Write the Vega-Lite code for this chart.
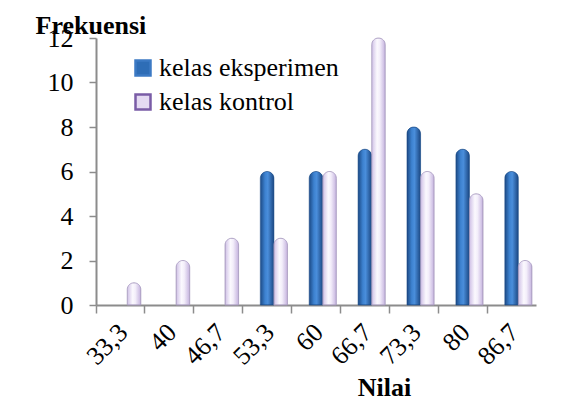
{
  "$schema": "https://vega.github.io/schema/vega-lite/v6.json",
  "width": 440,
  "height": 267,
  "autosize": {"type": "none"},
  "padding": {"left": 96, "top": 38, "right": 52, "bottom": 114},
  "background": "white",
  "config": {"view": {"stroke": null}, "font": "Liberation Serif"},
  "data": {
    "values": [
      {"nilai": "33,3", "series": "kelas eksperimen", "frek": 0},
      {"nilai": "33,3", "series": "kelas kontrol", "frek": 1},
      {"nilai": "40", "series": "kelas eksperimen", "frek": 0},
      {"nilai": "40", "series": "kelas kontrol", "frek": 2},
      {"nilai": "46,7", "series": "kelas eksperimen", "frek": 0},
      {"nilai": "46,7", "series": "kelas kontrol", "frek": 3},
      {"nilai": "53,3", "series": "kelas eksperimen", "frek": 6},
      {"nilai": "53,3", "series": "kelas kontrol", "frek": 3},
      {"nilai": "60", "series": "kelas eksperimen", "frek": 6},
      {"nilai": "60", "series": "kelas kontrol", "frek": 6},
      {"nilai": "66,7", "series": "kelas eksperimen", "frek": 7},
      {"nilai": "66,7", "series": "kelas kontrol", "frek": 12},
      {"nilai": "73,3", "series": "kelas eksperimen", "frek": 8},
      {"nilai": "73,3", "series": "kelas kontrol", "frek": 6},
      {"nilai": "80", "series": "kelas eksperimen", "frek": 7},
      {"nilai": "80", "series": "kelas kontrol", "frek": 5},
      {"nilai": "86,7", "series": "kelas eksperimen", "frek": 6},
      {"nilai": "86,7", "series": "kelas kontrol", "frek": 2}
    ]
  },
  "encoding": {
    "x": {
      "field": "nilai",
      "type": "nominal",
      "sort": ["33,3", "40", "46,7", "53,3", "60", "66,7", "73,3", "80", "86,7"],
      "scale": {"paddingInner": 0, "paddingOuter": 0},
      "axis": {
        "title": "Nilai",
        "titleFont": "Liberation Serif",
        "titleFontSize": 26,
        "titleFontWeight": "bold",
        "titleColor": "black",
        "titleX": 288,
        "titleY": 90,
        "titleBaseline": "alphabetic",
        "titleAnchor": "middle",
        "titleAlign": "center",
        "bandPosition": 0,
        "labelOffset": 3,
        "labelAngle": -45,
        "labelAlign": "right",
        "labelBaseline": "middle",
        "labelFont": "Liberation Serif",
        "labelFontSize": 26,
        "labelColor": "black",
        "labelPadding": 15,
        "tickSize": 8,
        "tickColor": "#8C8C8C",
        "tickWidth": 1.5,
        "domainColor": "#8C8C8C",
        "domainWidth": 2,
        "grid": false
      }
    },
    "xOffset": {
      "field": "series",
      "type": "nominal",
      "scale": {"domain": ["_", "kelas eksperimen", "kelas kontrol"], "paddingInner": 0, "paddingOuter": 0.3}
    },
    "y": {
      "field": "frek",
      "type": "quantitative",
      "scale": {"domain": [0, 12], "nice": false},
      "axis": {
        "title": "Frekuensi",
        "titleFont": "Liberation Serif",
        "titleFontSize": 26,
        "titleFontWeight": "bold",
        "titleColor": "black",
        "titleAngle": 0,
        "titleAlign": "left",
        "titleBaseline": "alphabetic",
        "titleX": -61,
        "titleY": -5,
        "values": [0, 2, 4, 6, 8, 10, 12],
        "labelFont": "Liberation Serif",
        "labelFontSize": 26,
        "labelColor": "black",
        "labelPadding": 16,
        "tickSize": 7,
        "tickColor": "#8C8C8C",
        "tickWidth": 1.5,
        "domainColor": "#8C8C8C",
        "domainWidth": 2,
        "grid": false
      }
    }
  },
  "layer": [
    {
      "transform": [{"filter": "datum.frek > 0"}],
      "mark": {"type": "bar", "cornerRadiusTopLeft": 7, "cornerRadiusTopRight": 7, "strokeWidth": 0},
      "encoding": {
        "color": {
          "field": "series",
          "type": "nominal",
          "scale": {"domain": ["kelas eksperimen", "kelas kontrol"], "range": ["#2E6DB6", "#E4DAF2"]},
          "legend": {
            "title": null,
            "orient": "none",
            "legendX": 34,
            "legendY": 17,
            "symbolType": "square",
            "symbolSize": 225,
            "symbolStrokeWidth": 2.5,
            "labelFont": "Liberation Serif",
            "labelFontSize": 26,
            "labelColor": "black",
            "labelLimit": 0,
            "labelOffset": 3,
            "rowPadding": 8
          }
        },
        "stroke": {
          "field": "series",
          "type": "nominal",
          "scale": {"domain": ["kelas eksperimen", "kelas kontrol"], "range": ["#3C7AC4", "#7A5CA6"]},
          "legend": {
            "title": null,
            "orient": "none",
            "legendX": 34,
            "legendY": 17,
            "symbolType": "square",
            "symbolSize": 225,
            "symbolStrokeWidth": 2.5,
            "labelFont": "Liberation Serif",
            "labelFontSize": 26,
            "labelColor": "black",
            "labelLimit": 0,
            "labelOffset": 3,
            "rowPadding": 8
          }
        }
      }
    },
    {
      "transform": [{"filter": "datum.series === 'kelas eksperimen' && datum.frek > 0"}],
      "mark": {
        "type": "bar",
        "cornerRadiusTopLeft": 7,
        "cornerRadiusTopRight": 7,
        "stroke": "#1D4B86",
        "strokeWidth": 0.6,
        "color": {
          "gradient": "linear",
          "x1": 0, "y1": 0, "x2": 1, "y2": 0,
          "stops": [
            {"offset": 0, "color": "#1C4A85"},
            {"offset": 0.35, "color": "#3D82D0"},
            {"offset": 0.55, "color": "#4A8EDB"},
            {"offset": 1, "color": "#1B4782"}
          ]
        }
      }
    },
    {
      "transform": [{"filter": "datum.series === 'kelas kontrol' && datum.frek > 0"}],
      "mark": {
        "type": "bar",
        "cornerRadiusTopLeft": 7,
        "cornerRadiusTopRight": 7,
        "stroke": "#A99DC0",
        "strokeWidth": 0.8,
        "color": {
          "gradient": "linear",
          "x1": 0, "y1": 0, "x2": 1, "y2": 0,
          "stops": [
            {"offset": 0, "color": "#CFC0E6"},
            {"offset": 0.4, "color": "#FBF9FE"},
            {"offset": 0.6, "color": "#F3EEFA"},
            {"offset": 1, "color": "#C4B2DE"}
          ]
        }
      }
    }
  ]
}
